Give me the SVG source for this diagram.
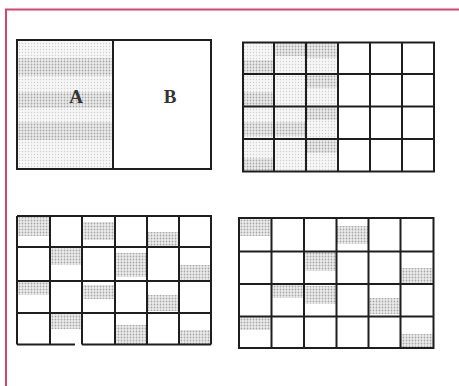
<svg xmlns="http://www.w3.org/2000/svg" width="459" height="386" viewBox="0 0 459 386">
<defs>
<pattern id="dots" width="3" height="3" patternUnits="userSpaceOnUse">
<rect width="3" height="3" fill="#ececec"/>
<circle cx="1.5" cy="1.5" r="0.9" fill="#a8a8a8"/>
</pattern>
<pattern id="dotsL" width="3" height="3" patternUnits="userSpaceOnUse">
<rect width="3" height="3" fill="#f6f6f6"/>
<circle cx="1.5" cy="1.5" r="0.7" fill="#d0d0d0"/>
</pattern>
</defs>
<style>
.ln{stroke:#1e1e1e;stroke-width:2;fill:none}
.sh{fill:url(#dots)}
.shl{fill:url(#dotsL)}
.lbl{font-family:"Liberation Serif",serif;font-size:19px;font-weight:bold;fill:#333;text-anchor:middle}
</style>
<rect width="459" height="386" fill="#ffffff"/>
<path d="M6 386 V9.5 H459" fill="none" stroke="#d8436a" stroke-width="2"/>

<g id="panelAB">
<rect class="shl" x="17" y="40" width="96" height="129"/>
<rect class="sh" x="17" y="58" width="96" height="18"/>
<rect class="sh" x="17" y="92" width="96" height="16"/>
<rect class="sh" x="17" y="122" width="96" height="18"/>
<rect class="ln" x="17" y="40" width="194" height="129"/>
<line class="ln" x1="113" y1="40" x2="113" y2="169"/>
<text class="lbl" x="76" y="103">A</text>
<text class="lbl" x="170" y="103">B</text>
</g>

<g id="grid1">
<rect class="shl" x="243" y="42" width="95" height="130"/>
<rect class="sh" x="243" y="60" width="31" height="14"/>
<rect class="sh" x="274" y="42" width="32" height="14"/>
<rect class="sh" x="306" y="42" width="32" height="16"/>
<rect class="sh" x="243" y="92" width="31" height="14"/>
<rect class="sh" x="306" y="74" width="32" height="14"/>
<rect class="sh" x="243" y="122" width="63" height="14"/>
<rect class="sh" x="306" y="106" width="32" height="14"/>
<rect class="sh" x="243" y="158" width="31" height="14"/>
<rect class="sh" x="306" y="139" width="32" height="14"/>
<path class="ln" d="M243 42.5 H434 V171.5 H243 Z M274 42.5 V171.5 M306 42.5 V171.5 M338 42.5 V171.5 M370 42.5 V171.5 M402 42.5 V171.5 M243 74 H434 M243 106.5 H434 M243 139 H434"/>
</g>

<g id="grid2">
<rect class="sh" x="17" y="216" width="33" height="20"/>
<rect class="sh" x="82" y="222" width="33" height="18"/>
<rect class="sh" x="147" y="232" width="32" height="15"/>
<rect class="sh" x="50" y="247" width="32" height="18"/>
<rect class="sh" x="115" y="253" width="32" height="24"/>
<rect class="sh" x="179" y="265" width="32" height="16"/>
<rect class="sh" x="17" y="281" width="33" height="14"/>
<rect class="sh" x="82" y="285" width="33" height="14"/>
<rect class="sh" x="147" y="295" width="32" height="16"/>
<rect class="sh" x="50" y="313" width="32" height="16"/>
<rect class="sh" x="115" y="325" width="32" height="19"/>
<rect class="sh" x="179" y="330" width="32" height="14"/>
<path class="ln" d="M17 216 H211 V344.5 M17 216 V344.5 M17 344.5 H75 M82 344.5 H211 M50 216 V344.5 M82 216 V344.5 M115 216 V344.5 M147 216 V344.5 M179 216 V344.5 M17 247 H211 M17 281 H211 M17 313 H211"/>
</g>

<g id="grid3">
<rect class="sh" x="239" y="218" width="33" height="18"/>
<rect class="sh" x="336" y="226" width="32" height="18"/>
<rect class="sh" x="304" y="251" width="32" height="20"/>
<rect class="sh" x="401" y="268" width="32" height="16"/>
<rect class="sh" x="272" y="284" width="32" height="14"/>
<rect class="sh" x="304" y="286" width="32" height="18"/>
<rect class="sh" x="368" y="298" width="33" height="16"/>
<rect class="sh" x="239" y="316" width="33" height="14"/>
<rect class="sh" x="401" y="334" width="32" height="14"/>
<path class="ln" d="M239 218 H433.5 V348 H239 Z M271.5 218 V348 M304 218 V348 M336.5 218 V348 M368.5 218 V348 M400.5 218 V348 M239 251.5 H433.5 M239 284 H433.5 M239 316.5 H433.5"/>
</g>
</svg>
